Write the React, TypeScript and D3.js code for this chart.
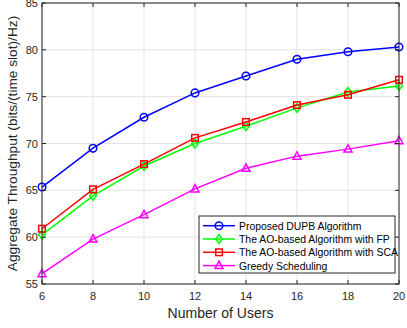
import React from "react";
import * as d3 from "d3";

const users = [6, 8, 10, 12, 14, 16, 18, 20];
const dupb = [65.35, 69.5, 72.8, 75.4, 77.2, 79.0, 79.8, 80.3];
const aoFP = [60.25, 64.4, 67.6, 70.0, 71.85, 73.8, 75.5, 76.15];
const aoSCA = [60.9, 65.1, 67.8, 70.6, 72.3, 74.1, 75.2, 76.8];
const greedy = [56.1, 59.8, 62.4, 65.15, 67.35, 68.65, 69.4, 70.3];
const xTicks = [6, 8, 10, 12, 14, 16, 18, 20];
const yTicks = [55, 60, 65, 70, 75, 80, 85];

const seriesNames = [
  "Proposed DUPB Algorithm",
  "The AO-based Algorithm with FP",
  "The AO-based Algorithm with SCA",
  "Greedy Scheduling",
];
const seriesColors = ["#0000ff", "#00ff00", "#ff0000", "#ff00ff"];
const seriesMarkers = ["circle", "diamond", "square", "triangle"];
const seriesData = [dupb, aoFP, aoSCA, greedy];

const W = 407;
const H = 328;
const L = 42, R = 399, T = 3, B = 284;
const font = "Arial, 'Liberation Sans', Helvetica, sans-serif";
const axisColor = "#262626";

function Marker({ type, x, y, color }: { type: string; x: number; y: number; color: string }) {
  const sw = 1.5;
  if (type === "circle") return <circle cx={x} cy={y} r={3.8} fill="none" stroke={color} strokeWidth={sw} />;
  if (type === "square") return <rect x={x - 3.3} y={y - 3.3} width={6.6} height={6.6} fill="none" stroke={color} strokeWidth={sw} />;
  if (type === "diamond")
    return <path d={`M${x},${y - 4.4}L${x + 3.3},${y}L${x},${y + 4.4}L${x - 3.3},${y}Z`} fill="none" stroke={color} strokeWidth={sw} />;
  return <path d={`M${x},${y - 4.4}L${x + 4},${y + 3}L${x - 4},${y + 3}Z`} fill="none" stroke={color} strokeWidth={sw} />;
}

export default function App() {
  const x = d3.scaleLinear().domain([6, 20]).range([L, R]);
  const y = d3.scaleLinear().domain([55, 85]).range([B, T]);
  const line = d3
    .line<number>()
    .x((_, i) => x(users[i]))
    .y((d) => y(d));

  const legX = 199, legY = 216, legW = 196, legH = 57;
  const rowY = (i: number) => legY + 9.7 + i * 13.3;

  return (
    <svg width={W} height={H} style={{ position: "absolute", left: 0, top: 0, background: "#fff" }} fontFamily={font}>
      <rect x={0} y={0} width={W} height={H} fill="#fff" />
      {/* grid */}
      {xTicks.map((t) => (
        <line key={"gx" + t} x1={x(t)} x2={x(t)} y1={T} y2={B} stroke="#e3e3e3" strokeWidth={1} />
      ))}
      {yTicks.map((t) => (
        <line key={"gy" + t} x1={L} x2={R} y1={y(t)} y2={y(t)} stroke="#e3e3e3" strokeWidth={1} />
      ))}
      {/* series */}
      {seriesData.map((s, si) => (
        <g key={"s" + si}>
          <path d={line(s) || ""} fill="none" stroke={seriesColors[si]} strokeWidth={1.5} />
          {s.map((v, i) => (
            <Marker key={i} type={seriesMarkers[si]} x={x(users[i])} y={y(v)} color={seriesColors[si]} />
          ))}
        </g>
      ))}
      {/* axes box */}
      <rect x={L} y={T} width={R - L} height={B - T} fill="none" stroke={axisColor} strokeWidth={1} />
      {xTicks.map((t) => (
        <g key={"tx" + t}>
          <line x1={x(t)} x2={x(t)} y1={B} y2={B - 4} stroke={axisColor} />
          <line x1={x(t)} x2={x(t)} y1={T} y2={T + 4} stroke={axisColor} />
          <text x={x(t)} y={B + 16} textAnchor="middle" fontSize={11} fill={axisColor}>
            {t}
          </text>
        </g>
      ))}
      {yTicks.map((t) => (
        <g key={"ty" + t}>
          <line x1={L} x2={L + 4} y1={y(t)} y2={y(t)} stroke={axisColor} />
          <line x1={R} x2={R - 4} y1={y(t)} y2={y(t)} stroke={axisColor} />
          <text x={L - 4} y={y(t) + 4} textAnchor="end" fontSize={11} fill={axisColor}>
            {t}
          </text>
        </g>
      ))}
      <text x={(L + R) / 2} y={318} textAnchor="middle" fontSize={14} fill={axisColor}>
        Number of Users
      </text>
      <text
        transform={`translate(17,${(T + B) / 2}) rotate(-90)`}
        textAnchor="middle"
        fontSize={13.7}
        fill={axisColor}
      >
        Aggregate Throughput (bits/(time slot)/Hz)
      </text>
      {/* legend */}
      <rect x={legX} y={legY} width={legW} height={legH} fill="#fff" stroke={axisColor} strokeWidth={1} />
      {seriesNames.map((n, i) => (
        <g key={"l" + i}>
          <line x1={203} x2={235} y1={rowY(i)} y2={rowY(i)} stroke={seriesColors[i]} strokeWidth={1.5} />
          <Marker type={seriesMarkers[i]} x={219} y={rowY(i)} color={seriesColors[i]} />
          <text x={239} y={rowY(i) + 4} fontSize={10.4} fill="#000">
            {n}
          </text>
        </g>
      ))}
    </svg>
  );
}
